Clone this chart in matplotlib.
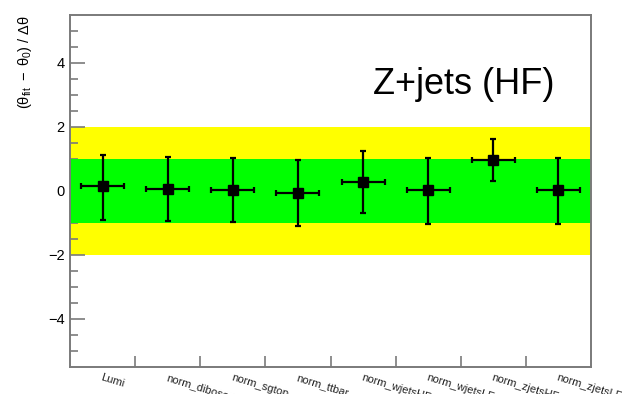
import matplotlib
matplotlib.use("Agg")
import matplotlib.pyplot as plt
import numpy as np

plt.rcParams['font.family'] = ['Liberation Sans', 'DejaVu Sans']
plt.rcParams['mathtext.fontset'] = 'custom'
plt.rcParams['mathtext.rm'] = 'Liberation Sans'
plt.rcParams['mathtext.it'] = 'Liberation Sans:italic'

# nuisance parameter pulls for the Z+jets (HF) fit
params = ['Lumi', 'norm_diboson', 'norm_sgtop', 'norm_ttbar',
          'norm_wjetsHF', 'norm_wjetsLF', 'norm_zjetsHF', 'norm_zjetsLF']
pulls = [0.15, 0.05, 0.02, -0.05, 0.29, 0.02, 0.97, 0.02]
err_up = [0.99, 1.00, 1.00, 1.01, 0.97, 1.00, 0.66, 1.00]
err_down = [1.05, 1.00, 1.00, 1.04, 0.97, 1.05, 0.66, 1.05]

FRAME = '#7a7a7a'

fig = plt.figure(figsize=(6.22, 3.94), dpi=100)
ax = fig.add_axes([70 / 622, 27 / 394, 521 / 622, 352 / 394])

n = len(params)
x = np.arange(n) + 0.5

# 1 and 2 sigma bands
ax.fill_between([0, n], -2, 2, color='#ffff00', lw=0, zorder=1)
ax.fill_between([0, n], -1, 1, color='#00ff00', lw=0, zorder=2)

ax.errorbar(x, pulls, yerr=[err_down, err_up], xerr=0.33,
            fmt='s', color='black', ms=6.5, elinewidth=1.6,
            capsize=2.2, capthick=1.6, zorder=3)

ax.set_xlim(0, n)
ax.set_ylim(-5.5, 5.5)

ax.set_xticks(np.arange(1, n))
ax.set_xticks(x, minor=True)
ax.set_xticklabels([])
ax.set_xticklabels(params, minor=True, rotation=-17, rotation_mode='anchor',
                   ha='left', va='top', fontsize=8, color='#222222')
ax.tick_params(axis='x', which='major', direction='in', length=8,
               width=1.2, color=FRAME, labelbottom=False)
ax.tick_params(axis='x', which='minor', length=0, pad=4)

ax.set_yticks([-4, -2, 0, 2, 4])
ax.set_yticks(np.arange(-5.0, 5.01, 0.5), minor=True)
ax.tick_params(axis='y', which='major', direction='in', length=11,
               width=1.2, color=FRAME, labelsize=10.5, pad=4)
ax.tick_params(axis='y', which='minor', direction='in', length=6,
               width=1.2, color=FRAME)
ax.set_yticklabels(['\u22124', '\u22122', '0', '2', '4'])

for side in ax.spines.values():
    side.set_color(FRAME)
    side.set_linewidth(1.4)

ax.set_ylabel(r'$\mathregular{(\theta_{fit}\ -\ \theta_{0})\ /\ \Delta\theta}$',
              fontsize=10.5, loc='top', labelpad=10)

ax.text(4.65, 3.04, 'Z+jets (HF)', fontsize=26, ha='left', va='baseline',
        zorder=4)

fig.savefig('out.png', dpi=100)
